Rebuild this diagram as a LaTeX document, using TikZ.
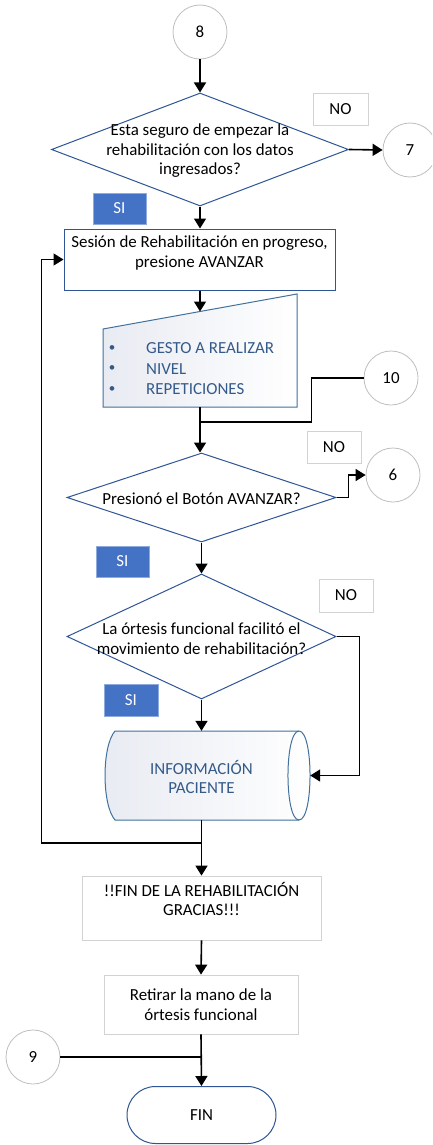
\documentclass[tikz,border=0pt]{standalone}
\usepackage{fontspec}
\setmainfont{Carlito}
\usetikzlibrary{shapes.geometric,arrows.meta,calc}
\definecolor{dblue}{RGB}{47,85,151}
\definecolor{mblue}{RGB}{65,113,156}
\definecolor{tblue}{RGB}{52,90,138}
\definecolor{sifill}{RGB}{68,114,196}
\definecolor{siedge}{RGB}{143,170,220}
\definecolor{cgray}{RGB}{191,191,191}
\definecolor{bgray}{RGB}{210,210,210}
\definecolor{shadec}{RGB}{232,235,242}
\begin{document}
\begin{tikzpicture}[x=1pt,y=-1pt,
  font=\fontsize{16.9}{19.5}\selectfont,
  conn/.style={line width=1.6pt, draw=black},
  arr/.style={conn, -{Triangle[length=10pt,width=12pt]}},
  circ/.style={circle, draw=cgray, line width=0.8pt, minimum size=54pt, inner sep=0pt, fill=white},
  dia/.style={diamond, draw=dblue, line width=1pt, inner sep=0pt, fill=white},
  procbox/.style={rectangle, draw=dblue, line width=1pt, inner sep=0pt, fill=white},
  graybox/.style={rectangle, draw=bgray, line width=0.8pt, inner sep=0pt, fill=white, align=center},
  nobox/.style={rectangle, draw=bgray, line width=0.8pt, inner sep=0pt, fill=white},
  sibox/.style={rectangle, fill=sifill, draw=siedge, line width=0.8pt, text=white, inner sep=0pt},
  txt/.style={align=center, inner sep=0pt},
  btxt/.style={align=left, inner sep=0pt, text=tblue, font=\fontsize{16.9}{20.5}\selectfont},
  shapeline/.style={draw=mblue, line width=1pt}
]
\clip (0,0) rectangle (432,1145);
\fill[white] (0,0) rectangle (432,1145);

% ---------- shapes ----------
\node[circ] (c8) at (200,32) {8};
\node[dia, minimum width=297pt, minimum height=113pt] (d1) at (200,149.5) {};
\node[txt] (t1) at (200,151) {Esta seguro de empezar la\\rehabilitación con los datos\\ingresados?};
\node[nobox, minimum width=55pt, minimum height=32pt] (nb1) at (340.5,109) {NO};
\node[circ] (c7) at (410,150) {7};
\node[sibox, minimum width=53pt, minimum height=31pt] (s1) at (119.5,208.5) {SI};

\node[procbox, minimum width=271pt, minimum height=61pt] (r1) at (199.5,259.5) {};
\node[txt] (t2) at (199.5,253) {Sesión de Rehabilitación en progreso,\\presione AVANZAR};

% manual input
\node[inner sep=0pt, minimum width=194pt, minimum height=113pt] (mi) at (200,350.5) {};
\draw[shapeline, left color=shadec, right color=white]
  (103,407) -- (103,329) -- (297,294) -- (297,407) -- cycle;
\coordinate (miTop) at (200,311.5);
\node[btxt, anchor=west] (mil) at (146,369) {GESTO A REALIZAR\\NIVEL\\REPETICIONES};
\node[btxt, anchor=center, font=\fontsize{13}{20.5}\selectfont] (mib) at (112,369) {\textbullet\\\textbullet\\\textbullet};

\node[circ] (c10) at (391,378) {10};
\coordinate (j10) at (200,422);

\node[dia, minimum width=269pt, minimum height=89pt] (d2) at (201.5,497.5) {};
\node[txt] (t3) at (201.5,499) {Presionó el Botón AVANZAR?};
\node[nobox, minimum width=54pt, minimum height=32pt] (nb2) at (334,447) {NO};
\node[circ] (c6) at (393,475) {6};
\node[sibox, minimum width=53pt, minimum height=31pt] (s2) at (122.5,561.5) {SI};

\node[dia, minimum width=269pt, minimum height=125pt] (d3) at (201.5,636.5) {};
\node[txt] (t4) at (201.5,638.5) {La órtesis funcional facilitó el\\movimiento de rehabilitación?};
\node[nobox, minimum width=54pt, minimum height=33pt] (nb3) at (346,595.5) {NO};
\node[sibox, minimum width=54pt, minimum height=32pt] (s3) at (131,700) {SI};

% stored data cylinder
\node[inner sep=0pt, minimum width=205pt, minimum height=89pt] (cyl) at (207.5,775.5) {};
\draw[shapeline, left color=shadec, right color=white]
  (115,731) -- (299,731) .. controls (313.7,731) and (313.7,820) .. (299,820)
  -- (115,820) .. controls (101.7,805) and (101.7,746) .. (115,731) -- cycle;
\draw[shapeline] (299,731) .. controls (284.3,731) and (284.3,820) .. (299,820);
\node[txt, text=tblue] (t5) at (201.5,777) {INFORMACIÓN\\PACIENTE};

\coordinate (jl) at (201.5,843);

\node[graybox, minimum width=239pt, minimum height=64pt] (r2) at (201.5,908) {};
\node[txt] (t6) at (201.5,899) {!!FIN DE LA REHABILITACIÓN\\GRACIAS!!!};
\node[graybox, minimum width=194pt, minimum height=59pt] (r3) at (201,1004.5) {Retirar la mano de la\\órtesis funcional};

\node[circ] (c9) at (33,1057) {9};
\node[draw=dblue, line width=1pt, rounded corners=28.5pt, minimum width=149pt, minimum height=57pt, inner sep=0pt] (fin) at (201.5,1115) {FIN};

% ---------- connectors ----------
\draw[arr] (c8.south) -- (d1.north);
\draw[arr] (d1.east) -- (c7.west);
\draw[arr] (d1.south) -- (d1.south |- r1.north);
\draw[arr] (miTop |- r1.south) -- (miTop);
\draw[arr] (mi.south) -- (mi.south |- d2.north);
\draw[conn] (c10.west) -- ++(-52,0) |- (j10);
\draw[arr] (d2.east) -- ++(12,0) |- (c6.west);
\draw[arr] (d2.south) -- (d3.north);
\draw[arr] (d3.east) -- ++(23,0) |- (cyl.east);
\draw[arr] (d3.south) -- (d3.south |- cyl.north);
\draw[arr] (d3.south |- cyl.south) -- (r2.north);
\draw[arr] (jl) -| ($(r1.west)+(-22,0)$) -- (r1.west);
\draw[arr] (r2.south) -- (r3.north);
\draw[arr] (r3.south) -- (fin.north);
\draw[conn] (c9.east) -- (c9.east -| fin.north);
\end{tikzpicture}
\end{document}
